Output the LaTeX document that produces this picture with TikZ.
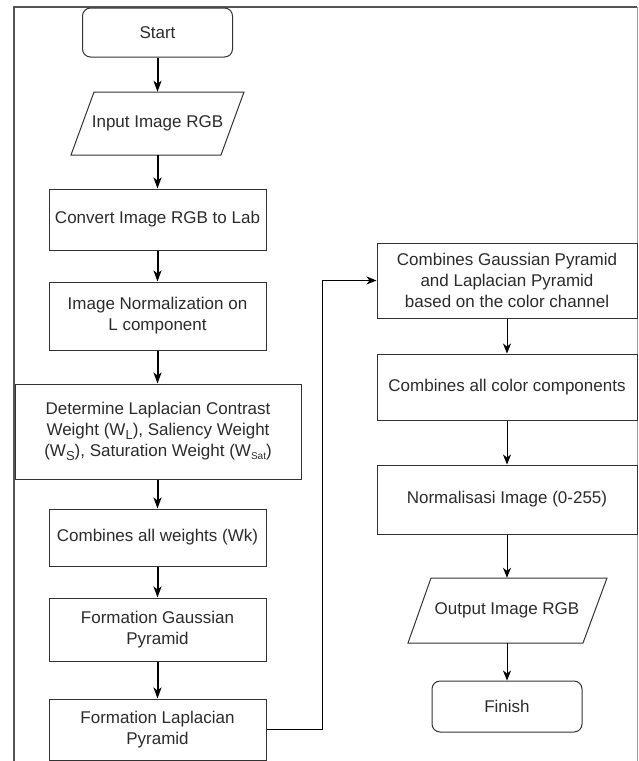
\documentclass[tikz,border=0pt]{standalone}
\usepackage{fontspec}
\setmainfont{Liberation Sans}
\usetikzlibrary{arrows.meta}
\definecolor{edge}{HTML}{333333}
\definecolor{txt}{HTML}{2B2B2B}
\definecolor{frameL}{HTML}{555555}
\definecolor{frameR}{HTML}{999999}
\newcommand{\sbL}[1]{\raisebox{-0.35ex}{\fontsize{13}{13}\selectfont #1}}
\newcommand{\sbS}[1]{\raisebox{-0.3ex}{\fontsize{10}{10}\selectfont #1}}
\begin{document}
\begin{tikzpicture}[x=1pt,y=-1pt,
  font=\fontsize{17}{21}\selectfont,
  every node/.style={text=txt},
  procbox/.style={draw=edge, line width=1pt, rectangle, align=center, inner sep=0pt, minimum width=217pt},
  termbox/.style={draw=edge, line width=1pt, rectangle, rounded corners=8pt, align=center, inner sep=0pt, minimum width=150pt},
  iobox/.style={inner sep=0pt, align=center},
  thick arrow/.style={draw=black, line width=2pt, -{Stealth[length=11pt,width=8pt,inset=3pt]}},
  thin arrow/.style={draw=black, line width=1pt, -{Stealth[length=10pt,width=8pt,inset=3pt]}}
]
\useasboundingbox (0,0) rectangle (638,761);
% frame
\draw[frameL, line width=1.2pt] (14,761) -- (14,7) -- (637,7);
\draw[frameR, line width=1pt] (637,7) -- (637,761);

% left column
\node[termbox, minimum height=49pt] (start) at (157.5,32.5) {Start};
\node[iobox, minimum width=150pt, minimum height=63pt] (inp) at (157.5,123.5) {Input Image RGB};
\draw[edge, line width=1pt] (71,155) -- (94,92) -- (244,92) -- (221,155) -- cycle;
\node[procbox, minimum height=61pt] (conv) at (157.5,219.5) {Convert Image RGB to Lab};
\node[procbox, minimum height=68pt] (norm) at (157.5,316) {Image Normalization on\\L component};
\node[procbox, minimum width=286pt, minimum height=95pt] (det) at (158,431.5) {Determine Laplacian Contrast\\Weight (W\sbL{L}), Saliency Weight\\(W\sbL{S}), Saturation Weight (W\sbS{Sat})};
\node[procbox, minimum height=57pt] (comb) at (157.5,537.5) {Combines all weights (Wk)};
\node[procbox, minimum height=63pt] (gau) at (157.5,629.5) {Formation Gaussian\\Pyramid};
\node[procbox, minimum height=61pt] (lap) at (157.5,729.5) {Formation Laplacian\\Pyramid};

% right column
\node[procbox, minimum width=260pt, minimum height=75pt] (cg) at (507,280.5) {Combines Gaussian Pyramid\\and Laplacian Pyramid\\based on the color channel};
\node[procbox, minimum width=260pt, minimum height=66pt] (cc) at (507,387) {Combines all color components};
\node[procbox, minimum width=260pt, minimum height=69pt] (ni) at (507,499.5) {Normalisasi Image (0-255)};
\node[iobox, minimum width=150pt, minimum height=65pt] (out) at (507,610.5) {Output Image RGB};
\draw[edge, line width=1pt] (408,643) -- (431,578) -- (607,578) -- (583,643) -- cycle;
\node[termbox, minimum height=51pt] (fin) at (507,706.5) {Finish};

% connectors
\draw[thick arrow] (start.south) -- (inp.north);
\draw[thick arrow] (inp.south) -- (conv.north);
\draw[thick arrow] (conv.south) -- (norm.north);
\draw[thick arrow] (norm.south) -- (det.north -| norm.south);
\draw[thick arrow] (det.south -| comb.north) -- (comb.north);
\draw[thick arrow] (comb.south) -- (gau.north);
\draw[thick arrow] (gau.south) -- (lap.north);
\coordinate (bend) at (322,729.5);
\draw[thin arrow] (lap.east) -- (bend) |- (cg.west);
\draw[thin arrow] (cg.south) -- (cc.north);
\draw[thin arrow] (cc.south) -- (ni.north);
\draw[thin arrow] (ni.south) -- (out.north);
\draw[thin arrow] (out.south) -- (fin.north);
\end{tikzpicture}
\end{document}
